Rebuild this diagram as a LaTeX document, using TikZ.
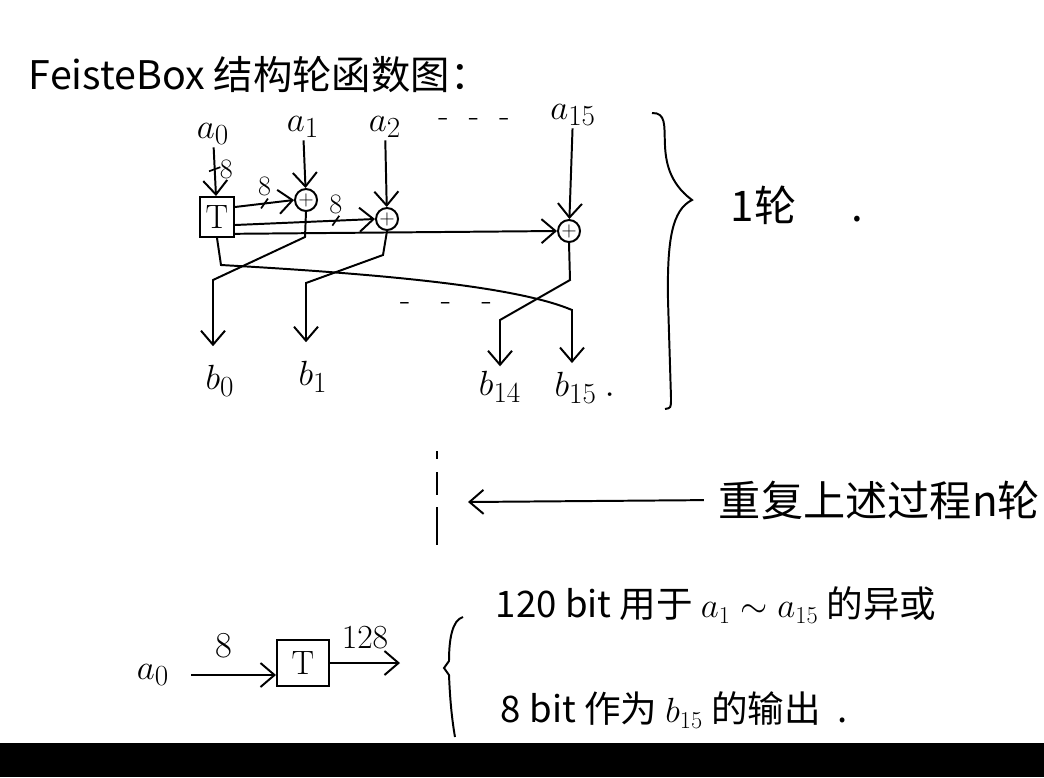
\documentclass[tikz,border=0pt]{standalone}
\usepackage{fontspec}
\newfontfamily\cjk{Noto Sans CJK SC}
\usepackage{tikz}
\usetikzlibrary{
    arrows.meta,
    calc
}

\begin{document}
\begin{tikzpicture}[
    x=0.025cm,
    y=-0.025cm,
    line width=1.4pt,
%
    var/.style={
        inner sep=1pt,
        font=\fontsize{32}{36}\selectfont
    },
%
    num/.style={
        inner sep=1pt,
        font=\fontsize{20}{24}\selectfont
    },
%
    dots/.style={
        inner sep=0pt,
        font=\fontsize{24}{24}\selectfont
    },
%
    note/.style={
        inner sep=0pt,
        font=\cjk\fontsize{26}{30}\selectfont
    },
%
    tbox/.style={
        draw,
        minimum width=0.85cm,
        minimum height=1cm,
        inner sep=0pt,
        font=\fontsize{24}{28}\selectfont
    },
%
    xorc/.style={
        draw,
        circle,
        minimum size=0.55cm,
        inner sep=0pt,
        font=\fontsize{14}{14}\selectfont
    },
%
    arr/.style={
        -{Straight Barb[length=3.5mm,width=6mm]},
        line width=1.4pt
    },
%
    tick/.style={
        draw,
        inner sep=0pt,
        minimum width=0pt,
        minimum height=3mm,
        line width=1.2pt,
        rotate=#1
    },
    tick/.default=-35
]
\useasboundingbox (0,0) rectangle (1044,777);
\fill[black] (0,743) rectangle (1044,777);
%
% Title
%
\node[
    note,
    anchor=west,
    font=\cjk\fontsize{28}{32}\selectfont
] (title) at (28,75) {FeisteBox 结构轮函数图：};
%
% One round: a_0 feeds the T box, its output is xored into a_1 ... a_15.
%
\node[var] (a0) at (213,134) {$a_0$};
\node[var] (a1) at (303,127) {$a_1$};
\node[var] (a2) at (385,127) {$a_2$};
\node[dots] (adots) at (474,122) {-\ \ -\ \ -};
\node[var] (a15) at (573,115) {$a_{15}$};
\node[tbox] (T) at (217,217) {T};
\node[xorc] (x1) at (306,200) {$+$};
\node[xorc] (x2) at (387,219) {$+$};
\node[xorc] (x15) at (569,231) {$+$};
\draw[arr] (a0) -- (T)
    node[num, pos=0.45, right=2pt] {8}
    node[tick=-70, pos=0.45] {};
\draw[arr] (a1) -- (x1);
\draw[arr] (a2) -- (x2);
\draw[arr] (a15) -- (x15);
\draw[arr] ([yshift=0.25cm]T.east) -- (x1.west)
    node[num, midway, above=4pt] {8}
    node[tick, midway] {};
\draw[arr] ([yshift=-0.2cm]T.east) -- (x2.west)
    node[num, pos=0.72, above=3pt] {8}
    node[tick, pos=0.72] {};
\draw[arr] ([yshift=-0.42cm]T.east) -- (x15.west);
%
% Outputs, crossed over
%
\node[var] (b0) at (220,381) {$b_0$};
\node[var] (b1) at (313,377) {$b_1$};
\node[dots] (bdots) at (446,306) {-\ \ \ -\ \ \ -};
\node[var] (b14) at (500,387) {$b_{14}$};
\node[var] (b15) at (585,388) {$b_{15}$\,.};
\draw[arr, shorten >=12pt] (x1.south) -- (305,237) -- (213,280) -- (b0.north -| 213,0);
\draw[arr, shorten >=12pt] (x2.south) -- (383,255) -- (306,283) -- (b1.north -| 306,0);
\draw[arr, shorten >=2pt] (x15.south) -- (570,280) -- (500,320) -- (b14.north);
\draw[arr, shorten >=5pt] (T.south) -- (221,265)
    .. controls (400,275) and (520,288) .. (572,310) -- (b15.north -| 572,0);
%
% Brace round the round
%
\draw (652,113) .. controls (680,112) and (645,165) .. (692,200)
    .. controls (672,210) and (667,240) .. (668,300)
    -- (671,398) .. controls (671,408) .. (665,409);
\node[
    note,
    anchor=west,
    font=\cjk\fontsize{30}{34}\selectfont
] (round1) at (730,205) {1轮\hspace{1.3em}.};
%
% Repeat n rounds
%
\draw[dash pattern=on 6pt off 9pt on 16pt off 9pt on 28pt off 0pt] (437,451) -- (437,545);
\node[
    note,
    anchor=west,
    font=\cjk\fontsize{30}{34}\selectfont
] (rep) at (718,500) {重复上述过程n轮};
\coordinate (back) at (468,502);
\draw[arr, shorten <=10pt] (rep.west) -- (back);
%
% Split of the T output
%
\node[var] (c0) at (153,675) {$a_0$};
\node[
    tbox,
    minimum width=1.3cm,
    minimum height=1.15cm
] (T2) at (303,663) {T};
\coordinate (cout) at (400,663);
\draw[arr, shorten <=14pt] (c0.east) -- (c0.east -| T2.west)
    node[num, midway, above=10pt, font=\fontsize{26}{30}\selectfont] {8};
\draw[arr] (T2.east) -- (cout)
    node[num, midway, above=8pt, font=\fontsize{24}{28}\selectfont] {128};
\draw (463,617) .. controls (452,620) and (449,640) .. (449,661)
    -- (444,668) -- (449,675)
    .. controls (450,700) and (452,720) .. (455,737);
\node[
    note,
    anchor=west
] (use) at (495,605) {120 bit 用于 $a_1\sim a_{15}$ 的异或};
\node[
    note,
    anchor=west
] (outb) at (500,710) {8 bit 作为 $b_{15}$ 的输出 \ .};
%
\end{tikzpicture}
\end{document}
